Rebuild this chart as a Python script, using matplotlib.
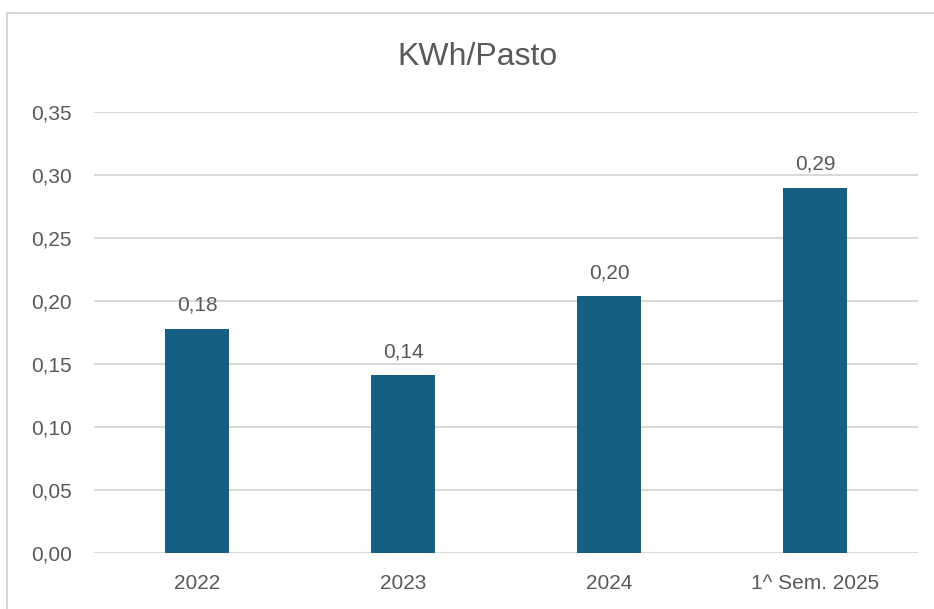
import matplotlib.pyplot as plt
from matplotlib.patches import Rectangle
from matplotlib.ticker import FuncFormatter

# dati
categorie = ["2022", "2023", "2024", "1^ Sem. 2025"]
kwh_pasto = [0.178, 0.141, 0.204, 0.290]
etichette = ["0,18", "0,14", "0,20", "0,29"]

plt.rcParams['font.family'] = ['Liberation Sans', 'DejaVu Sans']
grigio = "#595959"

fig = plt.figure(figsize=(9.34, 6.09), dpi=100)
ax = fig.add_axes([94 / 934, 1 - 553 / 609, 824 / 934, 441 / 609])

x = range(len(categorie))
bars = ax.bar(x, kwh_pasto, width=0.31, color="#156082", zorder=3)

for b, lab in zip(bars, etichette):
    ax.annotate(lab, (b.get_x() + b.get_width() / 2, b.get_height()),
                xytext=(0, 10), textcoords="offset points",
                ha="center", va="bottom", fontsize=15, color=grigio)

ax.set_xlim(-0.5, 3.5)
ax.set_ylim(0, 0.35)
ax.set_yticks([0, 0.05, 0.10, 0.15, 0.20, 0.25, 0.30, 0.35])
ax.yaxis.set_major_formatter(FuncFormatter(lambda v, p: f"{v:.2f}".replace(".", ",")))
ax.set_xticks(list(x))
ax.set_xticklabels(categorie)
ax.tick_params(axis="both", length=0, labelsize=15, labelcolor=grigio)
ax.tick_params(axis="y", pad=16)
ax.tick_params(axis="x", pad=15)
ax.grid(axis="y", color="#d9d9d9", linewidth=1.5, zorder=0)
for s in ax.spines.values():
    s.set_visible(False)

fig.text(478 / 934, 1 - 57 / 609, "KWh/Pasto", ha="center", va="center",
         fontsize=23, color=grigio)

# bordo del grafico (esce dall'immagine a destra e in basso)
fig.patches.append(Rectangle((7 / 934, -0.05), 1.0, 1 - 13 / 609 + 0.05,
                             transform=fig.transFigure, fill=False,
                             edgecolor="#d9d9d9", linewidth=1.5))

fig.savefig("out.png", dpi=100)
